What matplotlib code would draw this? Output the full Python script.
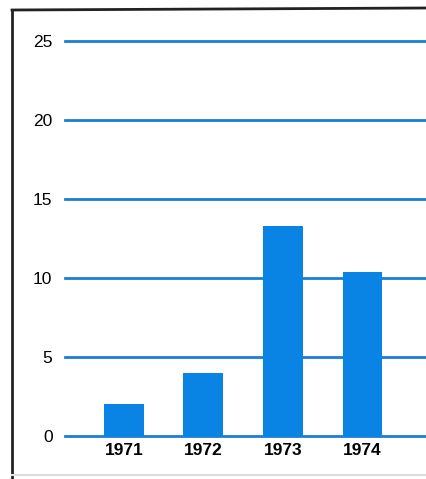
import matplotlib.pyplot as plt
from matplotlib.lines import Line2D
import numpy as np

years = ["1971", "1972", "1973", "1974"]
values = [2.0, 4.0, 13.3, 10.4]
y_ticks = [0, 5, 10, 15, 20, 25]

blue = "#0a84e4"
line_blue = "#1a7fd4"
font = ["Liberation Sans Narrow", "Liberation Sans", "DejaVu Sans"]

W, H = 426, 479
fig = plt.figure(figsize=(W / 100, H / 100), dpi=100)

# axes placed so that 0 sits at y=436 px and 25 at y=41 px
ppu = (436 - 41) / 25.0
y0, y1 = 0.0, 26.0
bottom = (H - 436) / H
top = (H - (41 - ppu)) / H
ax = fig.add_axes([65 / W, bottom, 1 - 65 / W, top - bottom])

index = np.arange(len(years))
ax.bar(index, values, width=0.5, color=blue, zorder=3)

for t in y_ticks:
    ax.axhline(t, color=line_blue, lw=2, zorder=2, clip_on=False)

ax.set_xlim(-0.74, 3.8)
ax.set_ylim(y0, y1)
for s in ax.spines.values():
    s.set_visible(False)

ax.set_yticks(y_ticks)
ax.set_yticklabels([str(t) for t in y_ticks], fontsize=12.5, family=font)
ax.set_xticks(index)
ax.set_xticklabels(years, fontsize=12.5, family=font, fontweight="bold")
ax.tick_params(axis="y", length=0, pad=9)
ax.tick_params(axis="x", length=0, pad=5)

# scanned frame round the chart
fig.add_artist(Line2D([12 / W, 12 / W], [1 - 10 / H, 0], color="#222222", lw=2))
fig.add_artist(Line2D([12 / W, 1], [1 - 10 / H, 1 - 8 / H], color="#222222", lw=2))
fig.add_artist(Line2D([12 / W, 1], [1 - 475 / H, 1 - 475 / H], color="#dddddd", lw=1.5))

fig.savefig("out.png", dpi=100)
